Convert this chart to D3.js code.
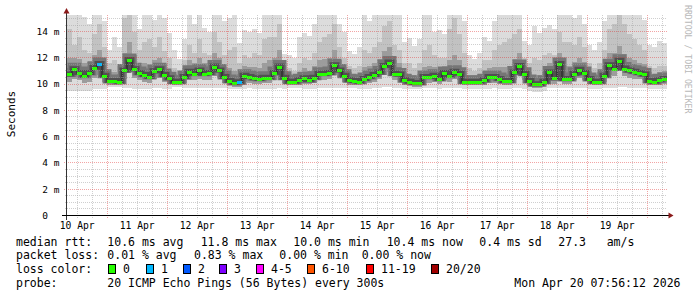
<!DOCTYPE html>
<html><head><meta charset="utf-8">
<script src="https://cdn.jsdelivr.net/npm/d3@7"></script>
<style>
html,body{margin:0;padding:0;background:#fff;}
svg{display:block;}
text{font-family:"DejaVu Sans Mono",monospace;white-space:pre;fill:#000;}
</style></head><body>
<svg id="c" width="697" height="297"></svg>
<script>
// ---------------- DATA ----------------
const rangeStart = "2026-04-10T07:56:12Z";
const rangeEnd   = "2026-04-20T07:56:12Z";
const binHours = 2;
// median RTT (ms) per 2-hour bin
const medianRtt = [
 10.7,11.1,10.8,10.6,10.8,11.2,11.5,10.6,10.2,10.2,10.15,11.0,11.8,11.1,10.8,10.65,10.5,10.95,11.1,10.65,
 10.4,10.15,10.15,10.5,10.9,10.75,11.0,10.75,10.8,11.3,11.0,10.5,10.2,10.05,10.1,10.6,10.5,10.4,10.35,10.45,
 10.45,10.8,11.3,10.45,10.15,10.15,10.25,10.4,10.25,10.45,10.75,10.75,10.8,11.4,11.0,10.6,10.25,10.2,10.15,10.35,
 10.5,10.65,10.85,11.35,11.6,10.75,10.7,10.25,10.15,10.05,10.05,10.5,10.5,10.6,10.35,10.8,10.6,10.9,10.75,10.15,
 10.15,10.15,10.15,10.25,10.5,10.5,10.35,10.2,10.2,10.85,11.35,10.75,10.2,9.95,9.95,10.15,10.85,10.4,11.5,10.35,
 10.35,10.75,11.05,10.8,10.35,10.15,10.15,10.6,11.4,11.15,11.75,11.15,11.0,10.9,10.8,10.7,10.2,10.15,10.25,10.35];
// lost pings (of 20) per bin
const lossCount = [
 0,0,0,0,0,0,1,0,0,0,0,0,0,0,0,0,0,0,0,0,
 0,0,0,0,0,0,0,0,0,0,0,0,0,0,1,0,0,0,0,0,
 0,0,0,0,0,0,0,0,0,0,0,0,0,0,0,0,0,0,0,0,
 0,0,0,0,0,0,0,0,0,0,0,0,0,0,0,0,0,0,0,0,
 0,0,0,0,0,0,0,0,0,0,0,0,0,0,0,0,0,0,0,0,
 0,0,0,0,0,0,0,0,0,0,0,0,0,0,0,0,0,0,0,0];
// smoke: distribution of the 20 pings per bin (ms)
const smokeMax = [
 15.3,15.3,15.3,15.1,14.6,15.3,15.3,14.8,12.6,13.6,12.8,15.3,15.3,15.3,14.2,15.3,15.3,14.9,15.3,15.0,
 13.9,12.6,11.9,13.4,15.3,14.6,15.3,14.3,14.0,15.3,15.3,14.8,15.0,15.3,13.1,14.1,14.0,14.2,13.9,15.3,
 15.3,15.3,15.3,12.3,12.2,12.0,13.6,13.9,13.7,14.6,15.3,15.3,15.3,15.3,14.6,14.0,12.5,12.3,12.8,15.3,
 14.8,15.3,15.3,15.3,15.3,15.3,15.3,13.2,13.5,12.9,13.4,15.3,15.3,14.0,14.1,13.8,15.3,15.3,15.3,14.8,
 12.2,11.9,12.4,13.6,13.3,14.8,15.3,15.3,15.3,15.3,15.3,13.3,13.0,14.4,13.9,14.3,14.5,14.2,15.3,15.3,
 15.3,15.0,15.3,14.6,13.0,12.6,13.2,14.8,15.3,15.3,15.3,15.3,15.3,15.3,15.3,14.9,13.0,12.8,13.3,13.1];
const smokeHigh = [
 14.2,13.0,13.6,12.6,12.4,13.8,14.6,12.8,11.6,11.8,11.4,15.0,15.3,14.0,12.6,13.2,13.4,12.8,13.6,12.5,
 12.0,11.2,11.0,11.8,13.0,12.4,13.4,12.4,12.2,14.0,13.2,12.2,12.6,12.8,11.6,12.2,12.0,12.4,12.2,13.4,
 13.6,13.6,14.6,11.6,11.2,11.0,11.6,12.0,11.8,12.4,13.2,13.6,13.8,14.6,12.8,12.0,11.4,11.2,11.4,12.6,
 12.4,12.8,13.2,14.4,14.8,13.0,12.6,11.6,11.6,11.2,11.6,12.6,13.0,12.2,12.0,12.0,14.2,15.0,13.8,12.4,
 11.2,11.0,11.2,11.8,11.8,12.6,13.0,13.2,13.4,13.8,14.2,12.0,11.6,12.0,11.8,12.2,12.4,12.2,14.0,13.2,
 13.2,13.0,13.6,12.8,11.6,11.2,11.6,12.6,14.2,14.6,15.3,14.6,13.8,13.4,13.0,12.6,11.4,11.2,11.4,11.4];
const smokeMid = [
 12.0,12.0,11.9,11.6,11.7,12.2,12.6,11.6,10.9,10.9,10.8,12.4,13.2,12.2,11.6,11.6,11.5,11.8,12.0,11.5,
 11.1,10.8,10.7,11.2,11.8,11.6,12.0,11.6,11.6,12.4,12.0,11.3,11.2,11.0,10.8,11.4,11.3,11.3,11.2,11.6,
 11.8,12.0,12.6,11.1,10.8,10.7,10.9,11.2,11.0,11.4,11.8,11.9,12.0,12.6,11.8,11.3,10.9,10.8,10.8,11.3,
 11.4,11.6,11.9,12.5,12.8,11.8,11.6,10.9,10.8,10.7,10.8,11.3,11.4,11.3,11.0,11.4,11.8,12.2,11.8,11.0,
 10.7,10.7,10.8,11.0,11.2,11.3,11.3,11.3,11.4,11.9,12.4,11.4,10.9,10.7,10.7,10.9,11.6,11.3,12.4,11.4,
 11.4,11.7,12.0,11.7,11.0,10.8,10.9,11.4,12.4,12.4,12.9,12.3,12.0,11.8,11.6,11.5,10.9,10.8,10.9,11.0];
const smokeLow = [
 10.2,10.4,10.3,10.1,10.2,10.5,10.7,10.2,9.9,9.9,9.9,10.4,10.9,10.5,10.3,10.2,10.1,10.4,10.5,10.2,
 10.0,9.9,9.9,10.1,10.3,10.3,10.4,10.3,10.3,10.6,10.5,10.1,9.9,9.8,9.8,10.2,10.1,10.0,10.0,10.1,
 10.1,10.3,10.6,10.1,9.9,9.9,9.9,10.0,10.0,10.1,10.3,10.3,10.4,10.7,10.5,10.2,9.9,9.9,9.9,10.0,
 10.1,10.2,10.4,10.7,10.9,10.3,10.3,9.9,9.9,9.8,9.8,10.1,10.1,10.2,10.0,10.3,10.2,10.4,10.3,9.9,
 9.9,9.9,9.9,9.9,10.1,10.1,10.0,9.9,9.9,10.3,10.7,10.3,9.9,9.7,9.7,9.9,10.3,10.0,10.7,10.0,
 10.0,10.3,10.5,10.3,10.0,9.9,9.9,10.2,10.7,10.6,11.0,10.6,10.5,10.4,10.4,10.3,9.9,9.9,9.9,10.0];
const smokeMin = [
 9.5,9.5,9.5,9.5,9.5,9.6,9.6,9.6,9.8,9.8,9.8,9.7,9.7,9.6,9.6,9.6,9.6,9.7,9.7,9.6,
 9.6,9.8,9.8,9.7,9.7,9.7,9.7,9.7,9.7,9.7,9.7,9.7,9.6,9.6,9.6,9.6,9.7,9.6,9.6,9.6,
 9.6,9.6,9.7,9.6,9.7,9.7,9.7,9.6,9.6,9.6,9.7,9.7,9.7,9.7,9.7,9.7,9.7,9.7,9.6,9.6,
 9.6,9.7,9.7,9.8,9.8,9.7,9.7,9.6,9.6,9.6,9.6,9.7,9.7,9.7,9.6,9.7,9.7,9.7,9.7,9.6,
 9.6,9.6,9.6,9.6,9.6,9.7,9.6,9.6,9.6,9.7,9.7,9.6,9.5,9.4,9.4,9.5,9.7,9.7,9.7,9.7,
 9.7,9.7,9.7,9.7,9.6,9.6,9.6,9.7,9.7,9.7,9.8,9.8,9.7,9.7,9.7,9.7,9.6,9.6,9.6,9.6];
const yTickValues = [0,2,4,6,8,10,12,14];
const yTickLabels = [" 0  "," 2 m"," 4 m"," 6 m"," 8 m","10 m","12 m","14 m"];
const rttLabel = "median rtt:";
const rttStats = ["10.6 ms avg","11.8 ms max","10.0 ms min","10.4 ms now","0.4 ms sd","27.3","am/s"];
const lossLabel = "packet loss:";
const lossStats = ["0.01 % avg","0.83 % max","0.00 % min","0.00 % now"];
const lossColorLabel = "loss color:";
const lossLabels = ["0","1","2","3","4-5","6-10","11-19","20/20"];
const lossColors = ["#26ff00","#00b8ff","#0059ff","#7e00ff","#ff00ff","#ff5500","#ff0000","#a10000"];
const probeLabel = "probe:";
const probeText = "20 ICMP Echo Pings (56 Bytes) every 300s";
const dateText = "Mon Apr 20 07:56:12 2026";
const yTitle = "Seconds";
const watermark = "RRDTOOL / TOBI OETIKER";

// ---------------- LAYOUT ----------------
const PL = 67, PR = 667, PT = 14.5, PB = 215.5;
const svg = d3.select("#c");
const t0 = new Date(rangeStart), t1 = new Date(rangeEnd);
const x = d3.scaleUtc().domain([t0, t1]).range([PL, PR]);
const y = d3.scaleLinear().domain([0, 15.3]).range([PB, PT]);
const bins = medianRtt.map((m, i) => ({
  i, s: d3.utcHour.offset(t0, i * binHours), e: d3.utcHour.offset(t0, (i + 1) * binHours), m
}));
svg.append("defs").append("clipPath").attr("id","pc")
  .append("rect").attr("x",PL).attr("y",PT-1).attr("width",PR-PL).attr("height",PB-PT+1);
const plot = svg.append("g").attr("clip-path","url(#pc)");

function band(lo, hi, color) {
  plot.append("g").attr("shape-rendering","crispEdges").selectAll("rect").data(bins).join("rect")
    .attr("x", d => x(d.s)).attr("width", d => x(d.e) - x(d.s))
    .attr("y", d => y(hi[d.i])).attr("height", d => y(lo[d.i]) - y(hi[d.i]))
    .attr("fill", color);
}
band(smokeMin, smokeMax, "#dcdcdc");
band(smokeLow, smokeHigh, "#c2c2c2");
band(smokeLow, smokeMid, "#9c9c9c");

// median core & line (step)
const stepPts = [];
bins.forEach(d => { stepPts.push([x(d.s), y(d.m)]); stepPts.push([x(d.e), y(d.m)]); });
const ln = d3.line();
plot.append("path").attr("d", ln(stepPts)).attr("fill","none").attr("stroke","#767676")
  .attr("stroke-width",9).attr("transform","translate(0,-2.5)");
plot.append("path").attr("d", ln(stepPts)).attr("fill","none").attr("stroke","#505050")
  .attr("stroke-width",5).attr("transform","translate(0,-1)");
plot.append("path").attr("d", ln(stepPts)).attr("fill","none").attr("stroke","#202020").attr("stroke-width",1);

function lossIdx(c){ return c<=0?0:c===1?1:c===2?2:c===3?3:c<=5?4:c<=10?5:c<=19?6:7; }
plot.append("g").attr("shape-rendering","crispEdges").selectAll("rect").data(bins).join("rect")
  .attr("x", d => x(d.s)).attr("width", d => x(d.e) - x(d.s))
  .attr("y", d => Math.round(y(d.m) - 1.5)).attr("height", 3)
  .attr("fill", d => lossColors[lossIdx(lossCount[d.i])]);

// ---------------- GRID (on top) ----------------
const grid = svg.append("g").attr("shape-rendering","crispEdges");
const minorY = d3.range(0, 15.3, 0.5).filter(v => v % 2 !== 0);
grid.selectAll(".hm").data(minorY).join("line")
  .attr("x1", PL-2).attr("x2", PR).attr("y1", v => Math.floor(y(v))+0.5).attr("y2", v => Math.floor(y(v))+0.5)
  .attr("stroke","rgba(160,160,160,0.5)").attr("stroke-dasharray","1,1");
const minorX = d3.utcHour.every(6).range(t0, t1).filter(t => t.getUTCHours() !== 0);
grid.selectAll(".vm").data(minorX).join("line")
  .attr("x1", t => Math.floor(x(t))+0.5).attr("x2", t => Math.floor(x(t))+0.5)
  .attr("y1", PT).attr("y2", PB+2)
  .attr("stroke","rgba(160,160,160,0.5)").attr("stroke-dasharray","1,1");
grid.selectAll(".hM").data(yTickValues.filter(v => v > 0)).join("line")
  .attr("x1", PL-3).attr("x2", PR).attr("y1", v => Math.floor(y(v))+0.5).attr("y2", v => Math.floor(y(v))+0.5)
  .attr("stroke","rgba(225,40,40,0.42)").attr("stroke-dasharray","1,1");
const majorX = d3.utcDay.every(1).range(t0, t1);
grid.selectAll(".vM").data(majorX).join("line")
  .attr("x1", t => Math.floor(x(t))+0.5).attr("x2", t => Math.floor(x(t))+0.5)
  .attr("y1", PT).attr("y2", PB+3)
  .attr("stroke","rgba(225,40,40,0.42)").attr("stroke-dasharray","1,1");

// ---------------- AXES ----------------
const ax = svg.append("g").attr("shape-rendering","crispEdges");
ax.append("line").attr("x1",PL-0.5).attr("x2",PL-0.5).attr("y1",PB+4).attr("y2",PT-2).attr("stroke","#333");
ax.append("line").attr("x1",PL-5).attr("x2",PR+2).attr("y1",PB).attr("y2",PB).attr("stroke","#000");
svg.append("path").attr("d",`M${PL-3.5},${PT-1}L${PL-0.5},${PT-6.5}L${PL+2.5},${PT-1}Z`).attr("fill","#8b1a1a");
svg.append("path").attr("d",`M${PR+1.5},${PB-3}L${PR+6.5},${PB}L${PR+1.5},${PB+3}Z`).attr("fill","#8b1a1a");

// y labels
svg.append("g").selectAll("text").data(yTickValues).join("text")
  .attr("x", 59.5).attr("y", v => y(v) + 3.3).attr("text-anchor","end")
  .style("font-size","9.5px").text((v,i) => yTickLabels[i]);
// x labels at noon of each day
const dayLabels = d3.utcDay.range(d3.utcDay.floor(t0), t1).map(d => d3.utcHour.offset(d, 12)).filter(t => t >= t0 && t <= t1);
svg.append("g").selectAll("text").data(dayLabels).join("text")
  .attr("x", t => x(t)).attr("y", 228.5).attr("text-anchor","middle")
  .style("font-size","9.7px").text(d3.utcFormat("%d %b"));

// titles
svg.append("text").attr("transform","translate(14.5,114) rotate(-90)").attr("text-anchor","middle")
  .style("font-size","11px").text(yTitle);
svg.append("text").attr("transform","translate(684.5,5) rotate(90)")
  .style("font-size","8.2px").style("fill","#b8b8b8").text(watermark);

// ---------------- LEGEND ----------------
const FS = "11.5px";
const row1 = 245.5, row2 = 259.3, row3 = 273, row4 = 286.6;
const leg = svg.append("g").style("font-size", FS);
leg.append("text").attr("x",16).attr("y",row1).text(rttLabel);
const rttX = [107.3,200.7,293.3,386.7,479.3,558.3,606.7];
leg.selectAll(".r").data(rttStats).join("text").attr("x",(d,i)=>rttX[i]).attr("y",row1).text(d=>d);
leg.append("text").attr("x",16).attr("y",row2).text(lossLabel);
const lossX = [107.3,194,279.3,361.7];
leg.selectAll(".l").data(lossStats).join("text").attr("x",(d,i)=>lossX[i]).attr("y",row2).text(d=>d);
leg.append("text").attr("x",16).attr("y",row3).text(lossColorLabel);
const swX = [108,146,183,219,256,307,366,431];
const lg = leg.append("g");
lossLabels.forEach((lab,i) => {
  lg.append("rect").attr("x",swX[i]+0.5).attr("y",row3-8.5).attr("width",7).attr("height",9)
    .attr("fill",lossColors[i]).attr("stroke","#000").attr("stroke-width",1).attr("shape-rendering","crispEdges");
  lg.append("text").attr("x",swX[i]+15).attr("y",row3).text(lab);
});
leg.append("text").attr("x",16).attr("y",row4).text(probeLabel);
leg.append("text").attr("x",107.3).attr("y",row4).text(probeText);
leg.append("text").attr("x",680.5).attr("y",row4).attr("text-anchor","end").text(dateText);
</script>
</body></html>
